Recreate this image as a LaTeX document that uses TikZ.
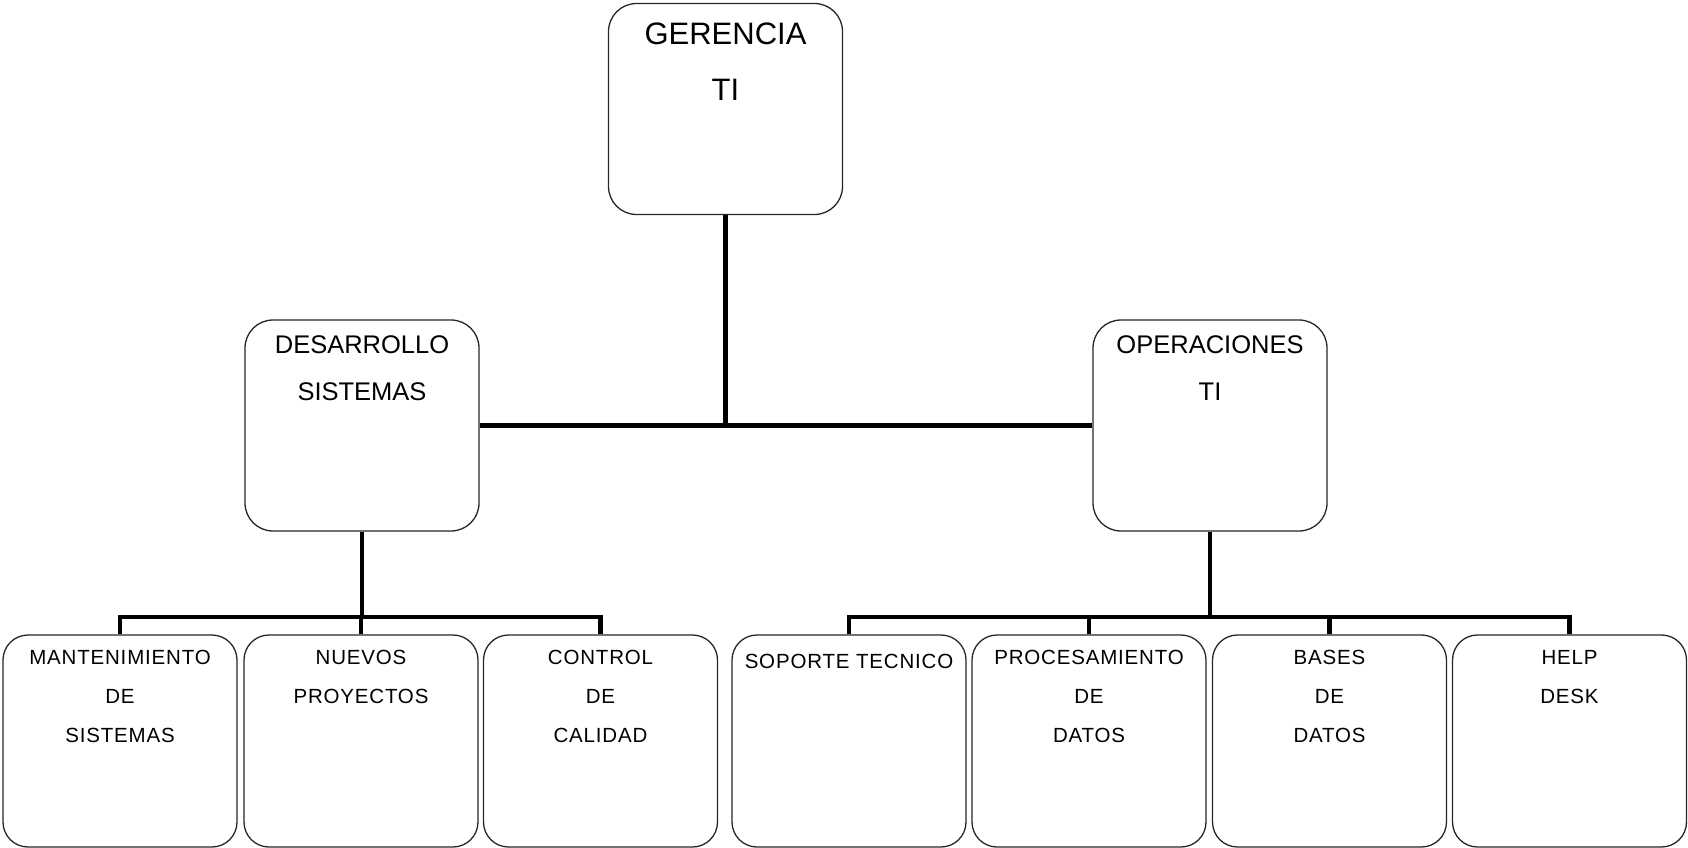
\documentclass[tikz,border=0pt]{standalone}
\usepackage{fontspec}
\setmainfont{Liberation Sans}
\begin{document}
\begin{tikzpicture}[x=1pt,y=-1pt,
  box/.style={draw=black!85, line width=1.3pt, rounded corners=28pt, minimum width=234pt, minimum height=211pt, inner sep=0pt},
  sbox/.style={box, rounded corners=25pt, minimum height=212pt},
  big/.style={font=\fontsize{31}{56}\selectfont, align=center, anchor=north, inner sep=0pt},
  mid/.style={font=\fontsize{25.5}{47.5}\selectfont, align=center, anchor=north, inner sep=0pt},
  small/.style={font=\fontsize{20.5}{39}\selectfont\addfontfeature{LetterSpace=4}, align=center, anchor=north, inner sep=0pt},
  conn/.style={line width=4.5pt}]
\useasboundingbox (0,0) rectangle (1688,848);
% boxes
\node[box] (ger) at (725.5,109) {};
\node[box] (des) at (362,425.5) {};
\node[box] (ope) at (1210,425.5) {};
\node[sbox] (m1) at (120,741) {};
\node[sbox] (m2) at (361,741) {};
\node[sbox] (m3) at (600.5,741) {};
\node[sbox] (o1) at (849,741) {};
\node[sbox] (o2) at (1089,741) {};
\node[sbox] (o3) at (1329.5,741) {};
\node[sbox] (o4) at (1569.5,741) {};
% texts
\node[big] (gert) at (725.5,23) {GERENCIA\\TI};
\node[mid] (dest) at (362,335) {DESARROLLO\\SISTEMAS};
\node[mid] (opet) at (1210,335) {OPERACIONES\\TI};
\node[small] (m1t) at (120,650) {MANTENIMIENTO\\DE\\SISTEMAS};
\node[small] (m2t) at (361,650) {NUEVOS\\PROYECTOS};
\node[small] (m3t) at (600.5,650) {CONTROL\\DE\\CALIDAD};
\node[small] (o1t) at (849,654) {SOPORTE TECNICO};
\node[small] (o2t) at (1089,650) {PROCESAMIENTO\\DE\\DATOS};
\node[small] (o3t) at (1329.5,650) {BASES\\DE\\DATOS};
\node[small] (o4t) at (1569.5,650) {HELP\\DESK};
% connectors
\coordinate (dj) at (362,617);
\coordinate (oj) at (1210,617);
\draw[conn] (ger.south) -- (ger.south |- des.east);
\draw[conn] (des.east) -- (ope.west);
\draw[conn] (des.south) -- (dj);
\draw[conn] (m1.north) -- (m1.north |- dj) -- (m3.north |- dj) -- (m3.north);
\draw[conn] (m2.north) -- (m2.north |- dj);
\draw[conn] (ope.south) -- (oj);
\draw[conn] (o1.north) -- (o1.north |- oj) -- (o4.north |- oj) -- (o4.north);
\draw[conn] (o2.north) -- (o2.north |- oj);
\draw[conn] (o3.north) -- (o3.north |- oj);
\end{tikzpicture}
\end{document}
